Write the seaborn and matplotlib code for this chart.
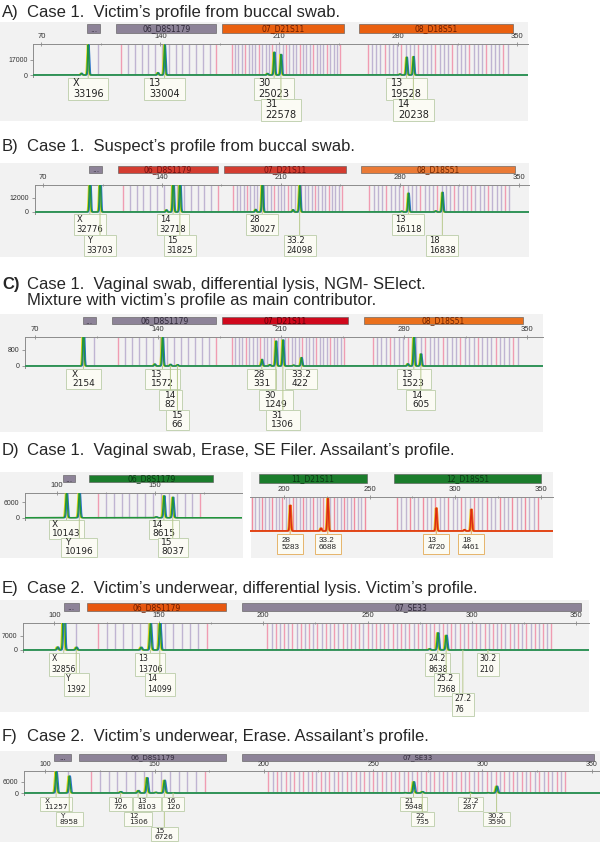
import numpy as np
import pandas as pd
import matplotlib
matplotlib.use("Agg")
import matplotlib.pyplot as plt
import matplotlib.transforms as mtransforms
from matplotlib.patches import Rectangle
from matplotlib.path import Path
import seaborn as sns

# ---------------- peak data: allele, size (bp), height (RFU) ----------------
A_allele = ["X", "13", "30", "31", "13", "14"]
A_size = [97.5, 142.5, 207.0, 211.0, 285.0, 289.0]
A_rfu = [33196, 33004, 25023, 22578, 19528, 20238]
A_minor_size = [93.5, 138.5, 203.0, 281.0]
A_minor_rfu = [1900, 2600, 1700, 1100]

B_allele = ["X", "Y", "14", "15", "28", "33.2", "13", "18"]
B_size = [97.5, 103.5, 146.5, 150.5, 199.0, 221.0, 285.0, 305.0]
B_rfu = [32776, 33703, 32718, 31825, 30027, 24098, 16118, 16838]
B_minor_size = [142.5, 195.0, 217.0, 281.0, 301.0]
B_minor_rfu = [1800, 2200, 2000, 700, 900]

C_allele = ["X", "13", "14", "15", "28", "30", "31", "33.2", "13", "14"]
C_size = [97.5, 142.5, 147.0, 151.0, 199.0, 207.0, 211.0, 221.5, 285.5, 289.5]
C_rfu = [2154, 1572, 82, 66, 331, 1249, 1306, 422, 1523, 605]
C_minor_size = [138.0, 203.5, 217.0, 282.0]
C_minor_rfu = [100, 70, 45, 110]

D1_allele = ["X", "Y", "14", "15"]
D1_size = [105.0, 111.5, 154.5, 159.0]
D1_rfu = [10143, 10196, 8615, 8037]
D1_minor_size = [150.5]
D1_minor_rfu = [350]

D2_allele = ["28", "33.2", "13", "18"]
D2_size = [203.5, 225.5, 289.0, 309.5]
D2_rfu = [5283, 6688, 4720, 4461]
D2_minor_size = [221.5, 305.5]
D2_minor_rfu = [600, 300]

E_allele = ["X", "Y", "13", "14", "24.2", "25.2", "27.2", "30.2"]
E_size = [104.5, 110.5, 146.0, 150.5, 283.6, 287.6, 295.6, 307.6]
E_rfu = [32856, 1392, 13706, 14099, 8638, 7368, 76, 210]
E_minor_size = [101.5, 141.5, 279.6]
E_minor_rfu = [1500, 1400, 600]

F_allele = ["X", "Y", "10", "12", "13", "15", "16", "21", "22", "27.2", "30.2"]
F_size = [105.0, 111.0, 134.5, 142.5, 146.5, 154.5, 158.5, 268.5, 272.5, 294.5, 306.5]
F_rfu = [11257, 8958, 726, 1306, 8103, 6726, 120, 5948, 735, 287, 3590]
F_minor_size = [150.5, 264.5, 302.5]
F_minor_rfu = [400, 250, 250]

# locus header bars (name, first bp, last bp)
NGM_locus = ["...", "06_D8S1179", "07_D21S11", "08_D18S51"]
NGM_lo = [97.0, 114.0, 176.5, 257.0]
NGM_hi = [104.5, 173.0, 248.0, 347.5]
SEF1_locus = ["...", "06_D8S1179"]
SEF1_lo = [103.0, 116.5]
SEF1_hi = [109.5, 179.7]
SEF2_locus = ["11_D21S11", "12_D18S51"]
SEF2_lo = [185.5, 264.5]
SEF2_hi = [248.3, 350.0]
SE33_locus = ["...", "06_D8S1179", "07_SE33"]
SE33_lo = [104.4, 115.5, 189.7]
SE33_hi = [111.6, 182.0, 352.0]
F_lo = [104.0, 115.5, 190.0]
F_hi = [112.0, 182.5, 351.0]

# allelic ladder bins: (first, last, spacing, pink rule)
NGM_bins = [(97.5, 103.5, 6.0, None), (117.0, 173.0, 4.0, "ends"),
            (182.0, 246.0, 2.0, 4), (262.0, 346.0, 2.5, 4)]
SEF1_bins = [(105.0, 111.5, 6.5, None), (121.0, 175.0, 4.0, "ends")]
SEF2_bins = [(181.0, 248.0, 2.0, 3), (266.0, 350.0, 2.5, 3)]
SE33_bins = [(104.5, 110.5, 6.0, None), (121.0, 175.0, 4.0, "ends"), (202.0, 338.0, 2.0, 2)]

# ---------------- style ----------------
sns.set_theme(style="white")
plt.rcParams["font.family"] = ["Liberation Sans", "DejaVu Sans"]

W, H = 600, 842
fig = plt.figure(figsize=(W / 100, H / 100), dpi=100)
fig.patch.set_facecolor("white")
# (x px, y px from the top) -> display
PX = mtransforms.Affine2D().scale(1.0 / W, -1.0 / H).translate(0.0, 1.0) + fig.transFigure

GRAY = ("#8d8398", "#2e2838")
OR_A = ("#ea6010", "#6a1c00")
RED_B = ("#d43c30", "#701010")
OR_B = ("#ea7a36", "#6a2400")
RED_C = ("#d0081c", "#5a0008")
OR_C = ("#ea701c", "#6a2000")
GREEN = ("#1b7d2c", "#0a3812")
OR_E = ("#e85810", "#6a1c00")

TRACE_GREEN = [(-0.45, "#e3d81c", 1.0), (0.45, "#2a72cc", 1.0), (0.0, "#22963a", 1.0)]
TRACE_RED = [(-0.45, "#f0c020", 1.0), (0.45, "#f07818", 1.0), (0.0, "#dc2a14", 1.0)]


def title(y, tag, lines, bold=False):
    fig.text(2, y, tag, transform=PX, fontsize=12, va="center", ha="left",
             weight="bold" if bold else "normal")
    for i, t in enumerate(lines):
        fig.text(27, y + 16 * i, t, transform=PX, fontsize=12, va="center", ha="left")


def trace(grid, sizes, heights, shift):
    y = np.zeros_like(grid)
    for s, h in zip(sizes, heights):
        y += h * np.exp(-0.5 * ((grid - s - shift) / 0.38) ** 2)
    return y


def make_box(padx, pady):
    def box(x0, y0, width, height, mutation_size, *args):
        dx, dy = padx * mutation_size, pady * mutation_size
        xa, ya, xb, yb = x0 - dx, y0 - dy, x0 + width + dx, y0 + height + dy
        return Path([(xa, ya), (xb, ya), (xb, yb), (xa, yb), (xa, ya)], closed=True)
    return box


def draw_panel(p, alleles, sizes, rfus, minor_s, minor_r, loci, lo, hi, bins):
    x0, x1, y0, y1 = p["bg"]
    fig.add_artist(Rectangle((x0, y0), x1 - x0, y1 - y0, transform=PX,
                             fc="#f2f2f2", ec="none", zorder=-5))
    left, right, top, base = p["box"]
    pad = 2.0
    h = base - top
    ax = fig.add_axes([left / W, 1 - (base + pad) / H, (right - left) / W, (h + pad) / H])
    ax.set_facecolor("none")
    ymax = p["ymax"]
    blend = mtransforms.blended_transform_factory(ax.transData, PX)

    # ladder bins
    pink, lav = p.get("bincol", ("#f09cb2", "#bfb4d2"))
    for b0, b1, step, rule in bins:
        pos = np.arange(b0, b1 + 0.01, step)
        for i, b in enumerate(pos):
            if rule == "ends":
                c = pink if i in (0, len(pos) - 1) else lav
            elif rule is None:
                c = lav
            else:
                c = pink if i % rule == 0 else lav
            ax.vlines(b, 0, ymax, colors=c, lw=1.0, zorder=1)

    # electropherogram traces
    grid = np.arange(p["xlim"][0], p["xlim"][1], 0.04)
    all_s = list(sizes) + list(minor_s)
    all_r = list(rfus) + list(minor_r)
    for shift, col, lw in p["trace"]:
        df = pd.DataFrame({"bp": grid, "rfu": trace(grid, all_s, all_r, shift)})
        sns.lineplot(data=df, x="bp", y="rfu", ax=ax, color=col, linewidth=lw,
                     estimator=None, sort=False, zorder=3)
    ax.set_xlabel("")
    ax.set_ylabel("")
    ax.set_xlim(*p["xlim"])
    ax.set_ylim(-ymax * pad / h, ymax)

    # axes decoration
    for s in ["right", "bottom"]:
        ax.spines[s].set_visible(False)
    ax.spines["top"].set_color("#8c8c8c")
    ax.spines["top"].set_linewidth(0.7)
    ax.xaxis.tick_top()
    ax.set_xticks(p["xt"])
    ax.set_xticks(p["xm"], minor=True)
    ax.tick_params(axis="x", which="both", bottom=False, labelbottom=False, top=True,
                   labeltop=True, direction="inout", width=0.6, color="#8c8c8c",
                   labelsize=p.get("tfs", 5.5), labelcolor="#333333", pad=p.get("tpad", 1))
    ax.tick_params(axis="x", which="major", length=3.5)
    ax.tick_params(axis="x", which="minor", length=2)
    if p["ytick"] is None:
        ax.spines["left"].set_visible(False)
        ax.set_yticks([])
    else:
        ax.spines["left"].set_color("#8c8c8c")
        ax.spines["left"].set_linewidth(0.7)
        ax.set_yticks([0, p["ytick"]])
        ax.set_yticklabels(["0", str(p["ytick"])])
        ax.tick_params(axis="y", left=True, length=2.5, width=0.6, color="#8c8c8c",
                       labelsize=5, labelcolor="#333333", pad=1.5)

    # locus header bars
    hy0, hy1 = p["hdr"]
    for name, a, b, (fc, tc) in zip(loci, lo, hi, p["hcol"]):
        ax.add_patch(Rectangle((a, hy0), b - a, hy1 - hy0, transform=blend, fc=fc,
                               ec="#555555", lw=0.4, clip_on=False, zorder=2))
        ax.text((a + b) / 2, (hy0 + hy1) / 2 + 0.5, name, transform=blend, ha="center",
                va="center", fontsize=p.get("hfs", 5.5), color=tc, family="DejaVu Sans",
                clip_on=False)

    # allele call boxes
    fs = p["fs"]
    fs_px = fs * 100 / 72
    box = make_box(p["padx"], p["pady"])
    for a, s, r, tier in zip(alleles, sizes, rfus, p["tiers"]):
        ytop = p["rows"][tier] + p["pady"] * fs_px
        ax.annotate(f"{a}\n{r}", xy=(s, 0), xycoords="data", xytext=(s, ytop),
                    textcoords=blend, ha="center", va="top", multialignment="left",
                    linespacing=p["L"], fontsize=fs, family=p.get("fam", "DejaVu Sans"),
                    color="#222222",
                    bbox=dict(boxstyle=box, fc="#fbfbf4", ec=p.get("ec", "#c3d2b3"), lw=0.7),
                    arrowprops=dict(arrowstyle="-", color=p.get("lc", "#b7c98c"), lw=0.7,
                                    shrinkA=0, shrinkB=0),
                    annotation_clip=False, zorder=5)
    return ax


XT_NGM = [70, 140, 210, 280, 350]
XM_NGM = [105, 175, 245, 315]
XT_SEF = [100, 150, 200, 250, 300, 350]
XM_SEF = [125, 175, 225, 275, 325]

# ---------------- A ----------------
title(12, "A)", ["Case 1.  Victim\u2019s profile from buccal swab."])
draw_panel(dict(bg=(0, 528, 22, 121), hdr=(24, 33), box=(33, 528, 44, 75), xlim=(65, 356.5),
                ymax=34000, ytick=17000, xt=XT_NGM, xm=XM_NGM, rows=(78, 99, 120),
                tiers=[0, 0, 0, 1, 0, 1], fs=7, L=1.1, padx=0.5, pady=0.05,
                trace=TRACE_GREEN, hcol=[GRAY, GRAY, OR_A, OR_A]),
           A_allele, A_size, A_rfu, A_minor_size, A_minor_rfu,
           NGM_locus, NGM_lo, NGM_hi, NGM_bins)

# ---------------- B ----------------
title(146, "B)", ["Case 1.  Suspect\u2019s profile from buccal swab."])
draw_panel(dict(bg=(0, 529, 163, 257), hdr=(166, 173), box=(34.6, 529, 185, 212), xlim=(65, 356),
                ymax=23100, ytick=12000, xt=XT_NGM, xm=XM_NGM, rows=(214, 235),
                tiers=[0, 1, 0, 1, 0, 1, 0, 1], fs=6, L=1.1, padx=0.33, pady=0.16,
                trace=TRACE_GREEN, hcol=[GRAY, RED_B, RED_B, OR_B]),
           B_allele, B_size, B_rfu, B_minor_size, B_minor_rfu,
           NGM_locus, NGM_lo, NGM_hi, NGM_bins)

# ---------------- C ----------------
title(285, "C)", ["Case 1.  Vaginal swab, differential lysis, NGM- SElect.",
                  "Mixture with victim\u2019s profile as main contributor."], bold=True)
draw_panel(dict(bg=(0, 543, 314, 432), hdr=(317, 324), box=(25.4, 543, 337, 366), xlim=(64.5, 359),
                ymax=1450, ytick=800, xt=XT_NGM, xm=XM_NGM, rows=(369, 390, 410),
                tiers=[0, 0, 1, 2, 0, 1, 2, 0, 0, 1], fs=6.5, L=1.1, padx=0.65, pady=0.07,
                trace=TRACE_GREEN, hcol=[GRAY, GRAY, RED_C, OR_C]),
           C_allele, C_size, C_rfu, C_minor_size, C_minor_rfu,
           NGM_locus, NGM_lo, NGM_hi, NGM_bins)

# ---------------- D ----------------
title(450, "D)", ["Case 1.  Vaginal swab, Erase, SE Filer. Assailant\u2019s profile."])
draw_panel(dict(bg=(0, 243, 472, 558), hdr=(475, 482), box=(25, 242, 492.7, 517.7), xlim=(83.9, 194.2),
                ymax=9800, ytick=6000, xt=[100, 150], xm=[125, 175], rows=(520, 538),
                tiers=[0, 1, 0, 1], fs=6.5, L=1.0, padx=0.4, pady=0.03,
                trace=TRACE_GREEN, hcol=[GRAY, GREEN]),
           D1_allele, D1_size, D1_rfu, D1_minor_size, D1_minor_rfu,
           SEF1_locus, SEF1_lo, SEF1_hi, SEF1_bins)
draw_panel(dict(bg=(251, 553, 472, 558), hdr=(474, 483), box=(250, 553, 497.3, 531), xlim=(180, 357.3),
                ymax=6900, ytick=None, xt=[200, 250, 300, 350], xm=[225, 275, 325], rows=(534,),
                tiers=[0, 0, 0, 0], fs=5.8, fam="Liberation Sans", L=1.02, padx=0.5, pady=0.34,
                ec="#e6b46a", lc="#e0a050", bincol=("#f08ca0", "#c2b6d0"),
                trace=TRACE_RED, hcol=[GREEN, GREEN]),
           D2_allele, D2_size, D2_rfu, D2_minor_size, D2_minor_rfu,
           SEF2_locus, SEF2_lo, SEF2_hi, SEF2_bins)

# ---------------- E ----------------
title(588, "E)", ["Case 2.  Victim\u2019s underwear, differential lysis. Victim\u2019s profile."])
draw_panel(dict(bg=(0, 589, 600, 712), hdr=(603, 611), box=(23, 589, 623, 650), xlim=(85, 356),
                ymax=13500, ytick=7000, xt=XT_SEF, xm=XM_SEF, rows=(653, 673, 693),
                tiers=[0, 1, 0, 1, 0, 1, 2, 0], fs=5.6, L=1.23, padx=0.35, pady=0.19,
                trace=TRACE_GREEN, hcol=[GRAY, OR_E, GRAY]),
           E_allele, E_size, E_rfu, E_minor_size, E_minor_rfu,
           SE33_locus, SE33_lo, SE33_hi, SE33_bins)

# ---------------- F ----------------
title(737, "F)", ["Case 2.  Victim\u2019s underwear, Erase. Assailant\u2019s profile."])
draw_panel(dict(bg=(0, 600, 751, 842), hdr=(754, 760.5), box=(24, 600, 771, 793), xlim=(90.3, 353.8),
                ymax=11600, ytick=6000, xt=XT_SEF, xm=XM_SEF, rows=(797, 812, 827),
                tiers=[0, 1, 0, 1, 0, 2, 0, 0, 1, 0, 1], fs=5.3, L=1.1, padx=0.58, pady=0.1,
                tfs=5, tpad=0.5, hfs=5,
                trace=TRACE_GREEN, hcol=[GRAY, GRAY, GRAY]),
           F_allele, F_size, F_rfu, F_minor_size, F_minor_rfu,
           SE33_locus, F_lo, F_hi, SE33_bins)

fig.savefig("out.png", dpi=100)
